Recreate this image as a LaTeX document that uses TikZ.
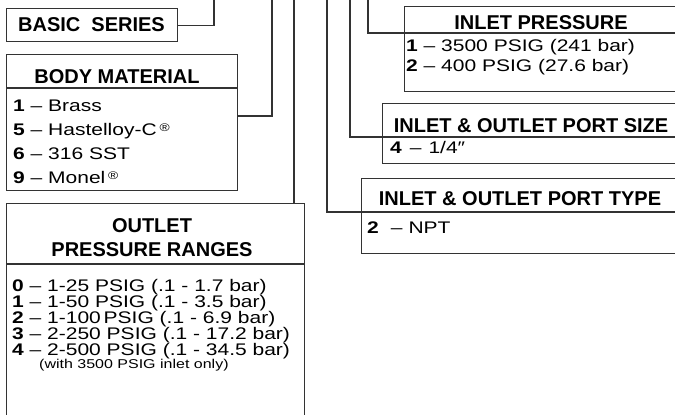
\documentclass[tikz,border=0pt]{standalone}
\usepackage{fontspec}
\setmainfont{Liberation Sans}
\newfontfamily\itemfont{Liberation Sans}[FakeStretch=1.25]
\usetikzlibrary{calc}
\begin{document}
\begin{tikzpicture}[x=1pt,y=-1pt,
  ln/.style={line width=1.3pt, draw=black!80},
  box/.style={ln, rectangle, inner sep=0pt, anchor=north west},
  hd/.style={inner sep=0pt, font=\fontsize{20}{20}\selectfont\bfseries, text height=14.3pt, text depth=0pt},
  it/.style={inner sep=0pt, anchor=west, font=\itemfont\fontsize{16.8}{16.8}\selectfont, text height=12pt, text depth=0pt},
  note/.style={inner sep=0pt, anchor=west, font=\itemfont\fontsize{12.8}{12.8}\selectfont, text height=9.2pt, text depth=0pt}
  ]
\useasboundingbox (0,0) rectangle (675,415);
\clip (0,0) rectangle (675,415);
\newcommand{\regmark}{\,\raisebox{4pt}{\fontsize{11}{11}\selectfont ®}}

% boxes
\node[box, minimum width=171pt, minimum height=33pt] (bs) at (6,8) {};
\node[box, minimum width=231pt, minimum height=136pt] (bm) at (6,54) {};
\node[box, minimum width=298pt, minimum height=225pt] (op) at (6,203) {};
\node[box, minimum width=290pt, minimum height=85pt] (ip) at (404,6) {};
\node[box, minimum width=310pt, minimum height=60pt] (ps) at (382,103) {};
\node[box, minimum width=330pt, minimum height=75pt] (pt) at (361,178) {};

% dividers
\draw[ln] ($(bm.north west)+(0,34)$) -- ($(bm.north east)+(0,34)$);
\draw[ln] ($(op.north west)+(0,61)$) -- ($(op.north east)+(0,61)$);

% headers
\node[hd] (bsh) at (91.5,24.5) {BASIC\ \ SERIES};
\node[hd] (bmh) at (117,76) {BODY MATERIAL};
\node[hd] (oph1) at (152,225) {OUTLET};
\node[hd] (oph2) at (152,249) {PRESSURE RANGES};
\node[hd] (iph) at (541,22) {INLET PRESSURE};
\node[hd] (psh) at (531,125) {INLET \& OUTLET PORT SIZE};
\node[hd] (pth) at (520,198) {INLET \& OUTLET PORT TYPE};

% items
\node[it] (bm1) at (13,105) {\textbf{1} – Brass};
\node[it] (bm5) at (13,129) {\textbf{5} – Hastelloy-C\regmark};
\node[it] (bm6) at (13,153) {\textbf{6} – 316 SST};
\node[it] (bm9) at (13,177) {\textbf{9} – Monel\regmark};

\node[it] (op0) at (12,285) {\textbf{0} – 1-25 PSIG (.1 - 1.7 bar)};
\node[it] (op1) at (12,301) {\textbf{1} – 1-50 PSIG (.1 - 3.5 bar)};
\node[it] (op2) at (12,317) {\textbf{2} – 1-100\,PSIG (.1 - 6.9 bar)};
\node[it] (op3) at (12,333) {\textbf{3} – 2-250 PSIG (.1 - 17.2 bar)};
\node[it] (op4) at (12,349) {\textbf{4} – 2-500 PSIG (.1 - 34.5 bar)};
\node[note] (opn) at (39,364) {(with 3500 PSIG inlet only)};

\node[it] (ip1) at (406,45) {\textbf{1} – 3500 PSIG (241 bar)};
\node[it] (ip2) at (406,65) {\textbf{2} – 400 PSIG (27.6 bar)};

\node[it] (ps4) at (390,147) {\textbf{4}\hspace{8pt}–\hspace{7pt}1/4″};
\node[it] (pt2) at (367,227) {\textbf{2}\hspace{12pt}–\hspace{6pt}NPT};

% connectors
\coordinate (t1) at (214,-5);
\coordinate (t2) at (272,-5);
\coordinate (t3) at (294,-5);
\coordinate (t4) at (327,-5);
\coordinate (t5) at (350,-5);
\coordinate (t6) at (368,-5);
\coordinate (j2) at (272,116);

\draw[ln] (bs.east) -| (t1);
\draw[ln] (bm.east |- j2) -- (j2) -- (t2);
\draw[ln] (t3) -- (t3 |- op.north);
\draw[ln] (t4) |- ($(pt.north west)+(0,34)$) -- ($(pt.north east)+(0,34)$);
\draw[ln] (t5) |- ($(ps.north west)+(0,34)$) -- ($(ps.north east)+(0,34)$);
\draw[ln] (t6) |- ($(ip.north west)+(0,27)$) -- ($(ip.north east)+(0,27)$);
\end{tikzpicture}
\end{document}
